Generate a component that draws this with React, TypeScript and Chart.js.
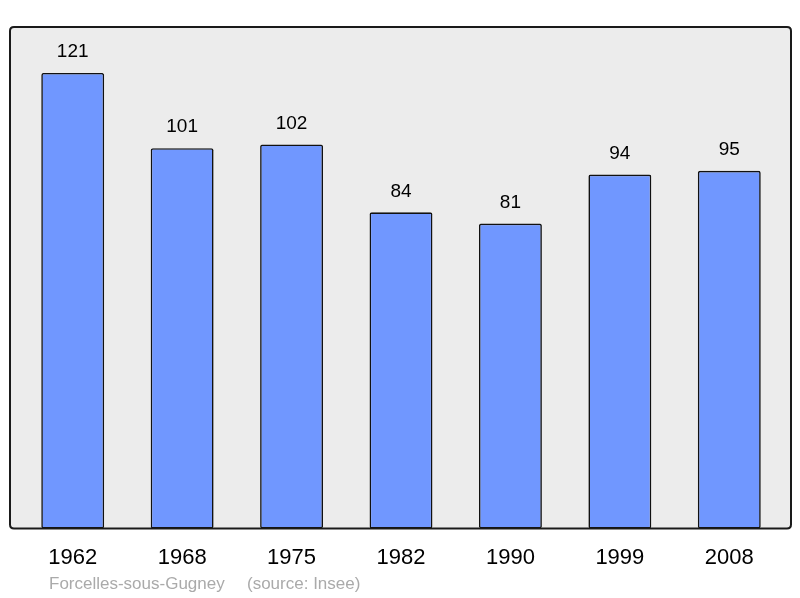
import React, { useEffect, useRef } from "react";
import { Chart, registerables } from "chart.js";

Chart.register(...registerables);

const years = ["1962", "1968", "1975", "1982", "1990", "1999", "2008"];
const population = [121, 101, 102, 84, 81, 94, 95];
const footerName = "Forcelles-sous-Gugney";
const footerSource = "(source: Insee)";

const FONT = "'Liberation Sans', Arial, sans-serif";

function roundRect(ctx: CanvasRenderingContext2D, x: number, y: number, w: number, h: number, r: number) {
  ctx.beginPath();
  ctx.moveTo(x + r, y);
  ctx.lineTo(x + w - r, y);
  ctx.quadraticCurveTo(x + w, y, x + w, y + r);
  ctx.lineTo(x + w, y + h - r);
  ctx.quadraticCurveTo(x + w, y + h, x + w - r, y + h);
  ctx.lineTo(x + r, y + h);
  ctx.quadraticCurveTo(x, y + h, x, y + h - r);
  ctx.lineTo(x, y + r);
  ctx.quadraticCurveTo(x, y, x + r, y);
  ctx.closePath();
}

const boxPlugin = {
  id: "boxPlugin",
  beforeDatasetsDraw(chart: any) {
    const { ctx, chartArea } = chart;
    const x = chartArea.left - 8;
    const y = chartArea.top;
    const w = chartArea.right + 7 - x;
    const h = chartArea.bottom - y;
    ctx.save();
    roundRect(ctx, x, y, w, h, 4);
    ctx.fillStyle = "#ececec";
    ctx.fill();
    ctx.restore();
  },
  afterDatasetsDraw(chart: any) {
    const { ctx, chartArea } = chart;
    const x = chartArea.left - 8;
    const y = chartArea.top;
    const w = chartArea.right + 7 - x;
    const h = chartArea.bottom - y;
    ctx.save();
    roundRect(ctx, x, y, w, h, 4);
    ctx.lineWidth = 2;
    ctx.strokeStyle = "#1a1a1a";
    ctx.stroke();

    // value labels
    const meta = chart.getDatasetMeta(0);
    ctx.fillStyle = "#000";
    ctx.font = `19px ${FONT}`;
    ctx.textAlign = "center";
    ctx.textBaseline = "middle";
    meta.data.forEach((bar: any, i: number) => {
      ctx.fillText(String(population[i]), bar.x, bar.y - 21);
    });

    // footer
    ctx.fillStyle = "#aaaaaa";
    ctx.font = `17px ${FONT}`;
    ctx.textAlign = "left";
    ctx.textBaseline = "middle";
    ctx.fillText(footerName, 49, 584);
    ctx.fillText(footerSource, 247, 584);
    ctx.restore();
  },
};

export default function App() {
  const ref = useRef<HTMLCanvasElement>(null);
  useEffect(() => {
    if (!ref.current) return;
    const chart = new Chart(ref.current, {
      type: "bar",
      data: {
        labels: years,
        datasets: [
          {
            data: population,
            backgroundColor: "#7097ff",
            borderColor: "#111",
            borderWidth: 1.6,
            borderRadius: 2,
            borderSkipped: false,
            barPercentage: 0.575,
            categoryPercentage: 1,
          },
        ],
      },
      plugins: [boxPlugin],
      options: {
        responsive: false,
        animation: false,
        layout: { padding: { left: 18, right: 16, top: 27, bottom: 11 } },
        plugins: { legend: { display: false }, tooltip: { enabled: false }, title: { display: false } },
        scales: {
          x: {
            grid: { display: false, drawTicks: false },
            border: { display: false },
            ticks: { color: "#000", font: { family: FONT, size: 22 }, padding: 16, maxRotation: 0 },
          },
          y: { display: false, min: 0, max: 133.2 },
        },
      },
    });
    return () => chart.destroy();
  }, []);
  return (
    <div style={{ position: "fixed", left: 0, top: 0, width: 800, height: 598, background: "#fff" }}>
      <canvas ref={ref} width={800} height={598} style={{ display: "block" }} />
    </div>
  );
}
